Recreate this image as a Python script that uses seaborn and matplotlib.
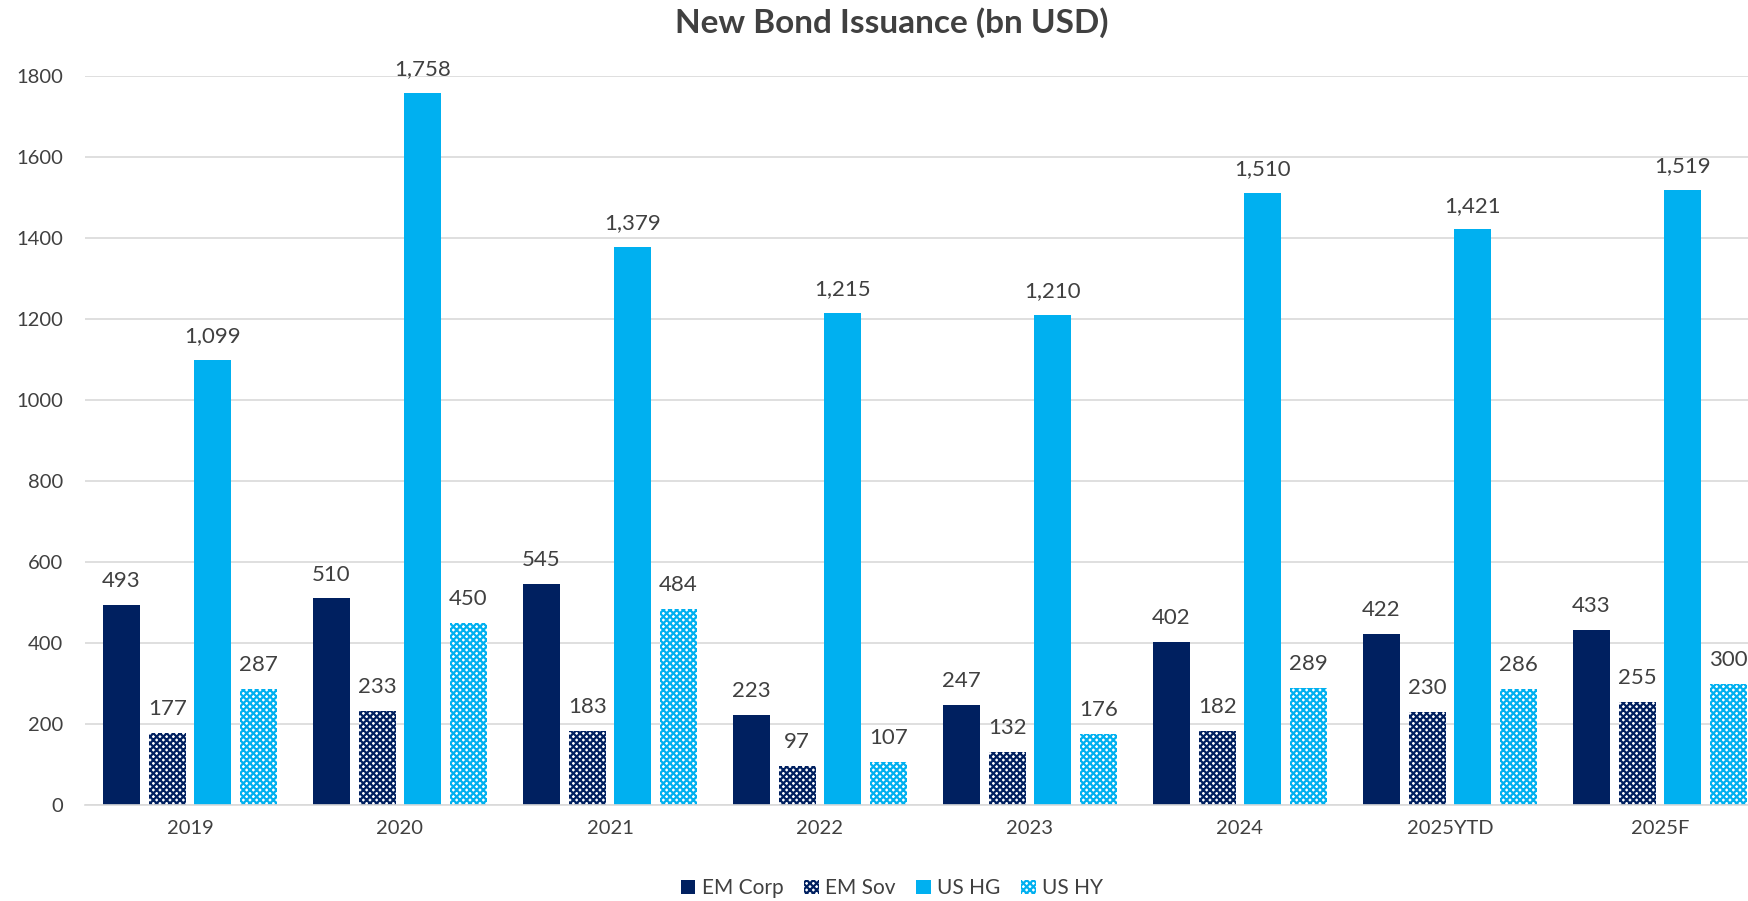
import matplotlib
matplotlib.use("Agg")
import matplotlib.pyplot as plt
from matplotlib.patches import Patch
import seaborn as sns
import pandas as pd

years = ["2019", "2020", "2021", "2022", "2023", "2024", "2025YTD", "2025F"]
series = ["EM Corp", "EM Sov", "US HG", "US HY"]
em_corp = [493, 510, 545, 223, 247, 402, 422, 433]
em_sov = [177, 233, 183, 97, 132, 182, 230, 255]
us_hg = [1099, 1758, 1379, 1215, 1210, 1510, 1421, 1519]
us_hy = [287, 450, 484, 107, 176, 289, 286, 300]
colors = ["#002060", "#002060", "#00B0F0", "#00B0F0"]
hatched = [False, True, False, True]

rows = []
for s, vals in zip(series, [em_corp, em_sov, us_hg, us_hy]):
    for y, v in zip(years, vals):
        rows.append({"year": y, "series": s, "value": v})
df = pd.DataFrame(rows)

sns.set_theme(style="white")
plt.rcParams["font.family"] = ["Lato", "DejaVu Sans"]
plt.rcParams["hatch.linewidth"] = 1.6

fig = plt.figure(figsize=(17.49, 9.01), dpi=100)
ax = fig.add_axes([85 / 1749, 1 - 805 / 901, 1 - 85 / 1749, (805 - 76) / 901])

sns.barplot(data=df, x="year", y="value", hue="series", hue_order=series,
            palette=colors, width=0.87, gap=0.19, ax=ax, legend=False,
            saturation=1)

for cont, col, h in zip(ax.containers, colors, hatched):
    for p in cont:
        if h:
            p.set_facecolor("white")
            p.set_edgecolor(col)
            p.set_hatch("xxxxx")
            p.set_linewidth(0)
        else:
            p.set_edgecolor(col)
            p.set_linewidth(0)
    for p in cont:
        v = p.get_height()
        ax.annotate(f"{v:,.0f}", (p.get_x() + p.get_width() / 2, v),
                    xytext=(0, 10), textcoords="offset points",
                    ha="center", va="bottom", fontsize=16, color="#404040",
                    annotation_clip=False)

ax.set_xlim(-0.5, -0.5 + (1749 - 85) / 210)
ax.set_ylim(0, 1800)
ax.set_yticks(range(0, 1801, 200))
ax.yaxis.grid(True, color="#D9D9D9", linewidth=1.2)
ax.set_axisbelow(True)
for sp in ["top", "right", "left"]:
    ax.spines[sp].set_visible(False)
ax.spines["bottom"].set_color("#D9D9D9")
ax.spines["bottom"].set_linewidth(1.2)
ax.tick_params(axis="both", length=0, labelsize=14.5, colors="#404040")
ax.tick_params(axis="x", pad=11)
ax.tick_params(axis="y", pad=16)
ax.set_xlabel("")
ax.set_ylabel("")

fig.text(0.51, 0.975, "New Bond Issuance (bn USD)", ha="center", va="center",
         fontsize=24, fontweight="bold", color="#404040")

handles = []
for s, col, h in zip(series, colors, hatched):
    if h:
        handles.append(Patch(facecolor="white", edgecolor=col, hatch="xxxxx",
                             linewidth=0, label=s))
    else:
        handles.append(Patch(facecolor=col, edgecolor=col, linewidth=0, label=s))
fig.legend(handles=handles, loc="center", bbox_to_anchor=(0.51, 0.014),
           ncol=4, frameon=False, fontsize=15, handlelength=0.7,
           handleheight=0.7, handletextpad=0.3, columnspacing=1.0,
           labelcolor="#404040")

fig.savefig("out.png", dpi=100)
